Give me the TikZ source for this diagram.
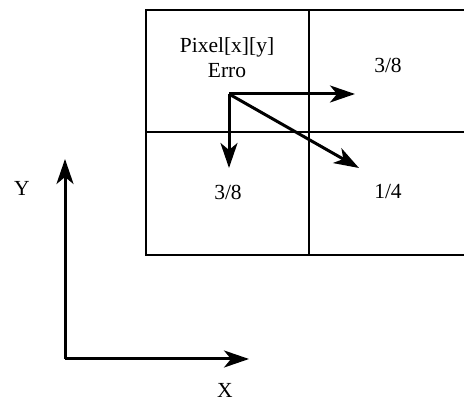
\documentclass[tikz,border=0pt]{standalone}
\usepackage{fontspec}
\setmainfont{Liberation Serif}
\usetikzlibrary{arrows.meta}
\begin{document}
\begin{tikzpicture}[x=1pt,y=-1pt,
  gridline/.style={line width=2.2pt},
  arr/.style={line width=3pt,-{Stealth[length=25pt,width=17pt,inset=7pt]}},
  lbl/.style={font=\fontsize{21.5}{25}\selectfont, inner sep=0pt, align=center}]
\useasboundingbox (0,0) rectangle (464,403);
\clip (0,0) rectangle (464,403);
% grid
\draw[gridline] (146,10) rectangle (470,255);
\draw[gridline] (146,132) -- (470,132);
\draw[gridline] (309,10) -- (309,255);
% labels
\node[lbl] (pix) at (227,58) {Pixel[x][y]\\Erro};
\node[lbl] (tr) at (388,65) {3/8};
\node[lbl] (bl) at (228,192) {3/8};
\node[lbl] (br) at (388,192) {1/4};
% error diffusion arrows
\coordinate (o) at (229,94);
\coordinate (er) at (355,94);
\coordinate (ed) at (229,168);
\coordinate (ediag) at (359,168);
\draw[arr] (o) -- (er);
\draw[arr] (o) -- (ed);
\draw[arr] (o) -- (ediag);
% axes
\coordinate (ax) at (65,359);
\coordinate (ay) at (65,159);
\coordinate (axx) at (249,359);
\draw[arr] (ax) -- (ay);
\draw[arr] (ax) -- (axx);
\node[lbl] (Y) at (22,188) {Y};
\node[lbl] (X) at (225,390) {X};
\end{tikzpicture}
\end{document}
